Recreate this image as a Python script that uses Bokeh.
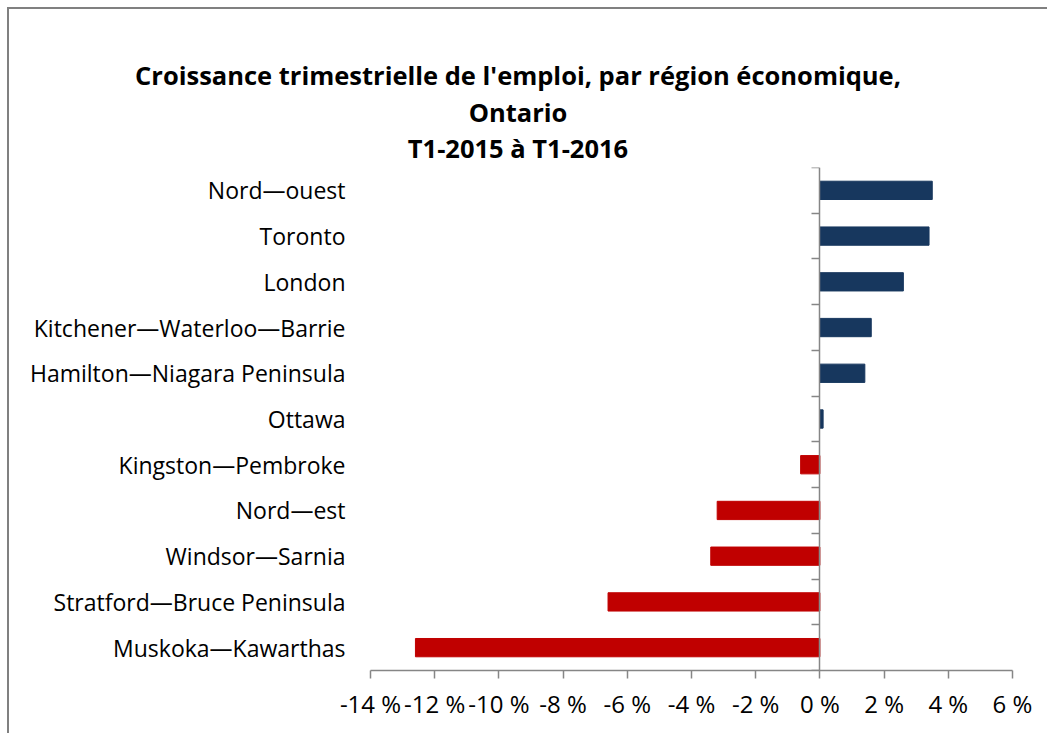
from bokeh.plotting import figure
from bokeh.models import Range1d, LinearAxis, FixedTicker, Div
from bokeh.layouts import column
from bokeh.embed import file_html
from bokeh.resources import INLINE

# data (top to bottom as displayed)
regions = ["Nord\u2014ouest", "Toronto", "London", "Kitchener\u2014Waterloo\u2014Barrie",
           "Hamilton\u2014Niagara Peninsula", "Ottawa", "Kingston\u2014Pembroke",
           "Nord\u2014est", "Windsor\u2014Sarnia", "Stratford\u2014Bruce Peninsula",
           "Muskoka\u2014Kawarthas"]
growth = [3.5, 3.4, 2.6, 1.6, 1.4, 0.1, -0.6, -3.2, -3.4, -6.6, -12.6]
x_ticks = [-14, -12, -10, -8, -6, -4, -2, 0, 2, 4, 6]
x_tick_labels = ["-14\u00a0%", "-12\u00a0%", "-10\u00a0%", "-8\u00a0%", "-6\u00a0%", "-4\u00a0%",
                 "-2\u00a0%", "0\u00a0%", "2\u00a0%", "4\u00a0%", "6\u00a0%"]
title_lines = ["Croissance trimestrielle de l'emploi, par région économique,",
               "Ontario", "T1-2015 à T1-2016"]

FONT = "Open Sans"
GRAY = "#868686"
n = len(regions)
ypos = [n - 1 - i + 0.5 for i in range(n)]
colors = ["#17375E" if v >= 0 else "#C00000" for v in growth]

title = Div(
    text=("<div style=\"width:1018px;text-align:center;font-family:'Open Sans';"
          "font-weight:bold;font-size:25.5px;line-height:36.5px;color:black;"
          "padding-top:48px;margin:0;\">"
          + "<br>".join(title_lines) + "</div>"),
    width=1038, height=158, margin=0)

p = figure(width=1038, height=566, output_backend="svg", toolbar_location=None,
           x_range=Range1d(-14, 6), y_range=Range1d(0, n),
           min_border_left=361, min_border_right=35, min_border_top=0, min_border_bottom=63,
           x_axis_location=None, y_axis_location=None, margin=0)
p.outline_line_color = None
p.xgrid.visible = False
p.ygrid.visible = False
p.background_fill_color = "white"
p.border_fill_color = "white"

p.hbar(y=ypos, right=growth, left=0, height=0.4, fill_color=colors,
       line_color=colors, line_width=1)

# x axis
xa = LinearAxis(ticker=FixedTicker(ticks=x_ticks),
                major_label_overrides={t: l for t, l in zip(x_ticks, x_tick_labels)})
xa.axis_line_color = GRAY
xa.axis_line_width = 1.5
xa.major_tick_line_color = GRAY
xa.major_tick_line_width = 1.5
xa.major_tick_out = 8
xa.major_tick_in = 0
xa.minor_tick_line_color = None
xa.major_label_standoff = 8
xa.major_label_text_font = FONT
xa.major_label_text_font_size = "24px"
xa.major_label_text_color = "black"
p.add_layout(xa, "below")

# category label axis (left, no line)
ya = LinearAxis(ticker=FixedTicker(ticks=ypos),
                major_label_overrides={y: r for y, r in zip(ypos, regions)})
ya.axis_line_color = None
ya.major_tick_line_color = None
ya.minor_tick_line_color = None
ya.major_label_standoff = 19
ya.major_label_text_font = FONT
ya.major_label_text_font_size = "23px"
ya.major_label_text_color = "black"
p.add_layout(ya, "left")

# zero line axis with boundary ticks
za = LinearAxis(ticker=FixedTicker(ticks=list(range(n + 1))), fixed_location=0)
za.axis_line_color = GRAY
za.axis_line_width = 1.5
za.major_tick_line_color = GRAY
za.major_tick_line_width = 1.5
za.major_tick_in = 8
za.major_tick_out = 0
za.minor_tick_line_color = None
za.major_label_text_color = None
p.add_layout(za, "right")

layout = column(title, p, spacing=0)
layout.margin = (7, 0, 0, 7)
layout.styles = {"border-left": "2px solid #808080", "border-top": "2px solid #808080",
                 "background-color": "white"}

open("out.html", "w").write(file_html(layout, INLINE))
